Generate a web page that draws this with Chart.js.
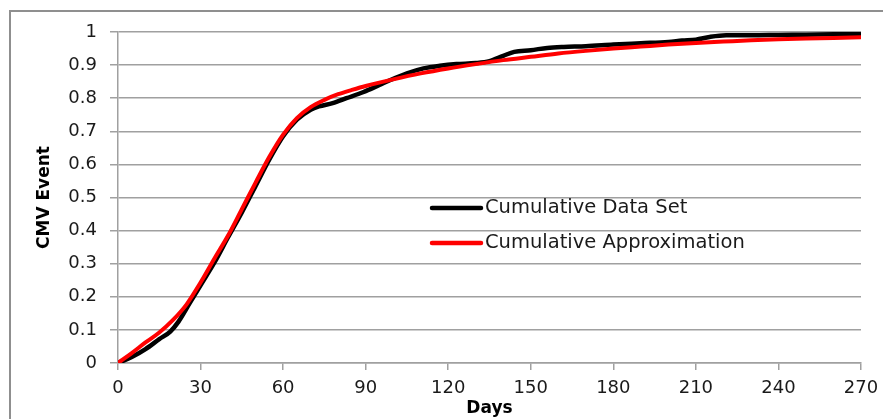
<!DOCTYPE html>
<html>
<head>
<meta charset="utf-8">
<script src="https://cdn.jsdelivr.net/npm/chart.js@4/dist/chart.umd.min.js"></script>
<style>
  html, body { margin: 0; padding: 0; background: #fff; }
  #wrap { position: relative; width: 883px; height: 419px; }
</style>
</head>
<body>
<div id="wrap"><canvas id="c" width="883" height="419"></canvas></div>
<script>
// ---- data ----
const dataDays = [0,5,10,15,19,22,26,30,35,40,45,50,55,60,65,70,73,78,83,89,95,99,105,111,117,123,130,135,140,144,150,156,162,170,180,190,200,205,210,215,221,230,240,250,260,270];
const dataValues = [0,0.018,0.042,0.072,0.095,0.125,0.18,0.235,0.303,0.38,0.455,0.535,0.615,0.685,0.735,0.765,0.775,0.785,0.8,0.818,0.84,0.855,0.875,0.89,0.898,0.903,0.906,0.912,0.928,0.94,0.945,0.952,0.955,0.957,0.962,0.966,0.97,0.974,0.977,0.985,0.99,0.99,0.991,0.992,0.993,0.994];
const approxDays = [0,5,10,15,20,25,30,35,40,45,50,55,60,65,70,75,80,85,90,100,110,120,130,140,150,160,170,180,190,200,210,220,230,240,250,260,270];
const approxValues = [0,0.03,0.062,0.092,0.13,0.178,0.243,0.315,0.385,0.465,0.545,0.623,0.69,0.74,0.773,0.795,0.812,0.825,0.837,0.857,0.875,0.89,0.903,0.915,0.925,0.935,0.943,0.95,0.956,0.962,0.967,0.971,0.975,0.978,0.98,0.982,0.984];
const seriesNames = ["Cumulative Data Set", "Cumulative Approximation"];
const xTitle = "Days";
const yTitle = "CMV Event";

const FONT = "'DejaVu Sans', sans-serif";
const GRID = "#a0a0a0";

const toPoints = (xs, ys) => xs.map((x, i) => ({ x: x, y: ys[i] }));

const frame = {
  id: 'frame',
  beforeDraw(chart) {
    const ctx = chart.ctx;
    ctx.save();
    ctx.fillStyle = '#fff';
    ctx.fillRect(0, 0, chart.width, chart.height);
    ctx.strokeStyle = '#8f8f8f';
    ctx.lineWidth = 2;
    ctx.strokeRect(10, 11, chart.width + 50, chart.height + 50);
    ctx.restore();
  }
};

const innerLegend = {
  id: 'innerLegend',
  afterDatasetsDraw(chart) {
    const ctx = chart.ctx;
    const items = [
      { label: seriesNames[0], color: chart.data.datasets[0].borderColor, y: 208 },
      { label: seriesNames[1], color: chart.data.datasets[1].borderColor, y: 243 }
    ];
    ctx.save();
    items.forEach(it => {
      ctx.strokeStyle = it.color;
      ctx.lineWidth = 4.5;
      ctx.lineCap = 'round';
      ctx.beginPath();
      ctx.moveTo(432, it.y);
      ctx.lineTo(481, it.y);
      ctx.stroke();
      ctx.fillStyle = '#1a1a1a';
      ctx.font = "19.5px " + FONT;
      ctx.textBaseline = 'middle';
      ctx.textAlign = 'left';
      ctx.fillText(it.label, 485, it.y);
    });
    ctx.restore();
  }
};

new Chart(document.getElementById('c'), {
  type: 'line',
  data: {
    datasets: [
      {
        label: seriesNames[0],
        data: toPoints(dataDays, dataValues),
        borderColor: '#000000',
        borderWidth: 4.5,
        pointRadius: 0,
        cubicInterpolationMode: 'monotone',
        order: 1
      },
      {
        label: seriesNames[1],
        data: toPoints(approxDays, approxValues),
        borderColor: '#ff0000',
        borderWidth: 4,
        pointRadius: 0,
        cubicInterpolationMode: 'monotone',
        order: 0
      }
    ]
  },
  options: {
    responsive: false,
    animation: false,
    layout: { padding: { left: 0, right: 22, top: 32, bottom: 0 } },
    plugins: {
      legend: { display: false },
      tooltip: { enabled: false }
    },
    scales: {
      x: {
        type: 'linear',
        min: 0, max: 270,
        ticks: {
          stepSize: 30,
          color: '#1a1a1a',
          font: { family: FONT, size: 18 },
          padding: 8,
          maxRotation: 0
        },
        grid: { drawOnChartArea: false, color: GRID, lineWidth: 1.5, tickLength: 7 },
        border: { color: GRID, width: 1.5 },
        title: {
          display: true, text: xTitle, color: '#000',
          font: { family: FONT, size: 17, weight: 'bold' },
          padding: { top: 0, bottom: 0 }
        },
        afterFit(scale) { scale.height = 56; scale.paddingLeft = 0; scale.paddingRight = 0; }
      },
      y: {
        min: 0, max: 1,
        ticks: {
          stepSize: 0.1,
          color: '#1a1a1a',
          font: { family: FONT, size: 18 },
          padding: 13,
          callback: v => String(Math.round(v * 10) / 10)
        },
        grid: { color: GRID, lineWidth: 1.5, tickLength: 8 },
        border: { color: GRID, width: 1.5 },
        title: {
          display: true, text: yTitle, color: '#000',
          font: { family: FONT, size: 17, weight: 'bold' },
          padding: { top: 34, bottom: 0 }
        },
        afterFit(scale) { scale.width = 118; }
      }
    }
  },
  plugins: [frame, innerLegend]
});
</script>
</body>
</html>
